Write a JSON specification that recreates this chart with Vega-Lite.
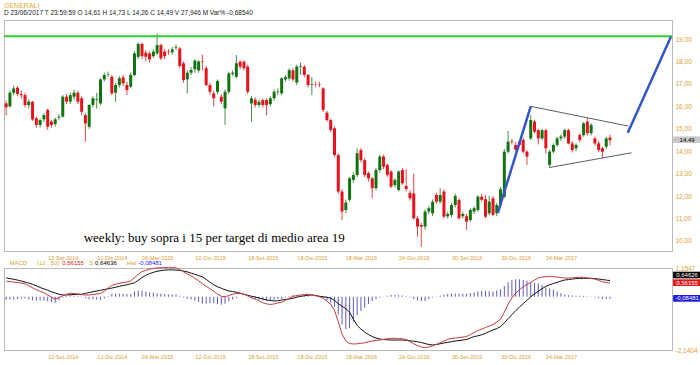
{
"$schema": "https://vega.github.io/schema/vega-lite/v6.json",
"background": "white",
"padding": {"left": 2, "top": 2, "right": 0, "bottom": 0},
"bounds": "flush",
"spacing": 17,
"title": {"text": "GENERALI", "subtitle": "D 23/06/2017  T 23:59:59  O 14,61  H 14,73  L 14,26  C 14,49  V 27,946 M  Var% -0,68540", "anchor": "start", "color": "#e0a830", "fontSize": 7, "fontWeight": "normal", "subtitleColor": "#222222", "subtitleFontSize": 6.5, "subtitlePadding": 1, "offset": 3, "frame": "group"},
"resolve": {"scale": {"color": "independent"}},
"config": {
  "font": "Liberation Sans",
  "view": {"stroke": "#b8b8b8"},
  "locale": {
    "number": {"decimal": ",", "thousands": ".", "grouping": [3], "currency": ["€", ""], "minus": "-"},
    "time": {"dateTime": "%A %e %B %Y, %X", "date": "%d/%m/%Y", "time": "%H:%M:%S", "periods": ["AM", "PM"],
      "days": ["Domenica", "Lunedì", "Martedì", "Mercoledì", "Giovedì", "Venerdì", "Sabato"],
      "shortDays": ["Dom", "Lun", "Mar", "Mer", "Gio", "Ven", "Sab"],
      "months": ["Gennaio", "Febbraio", "Marzo", "Aprile", "Maggio", "Giugno", "Luglio", "Agosto", "Settembre", "Ottobre", "Novembre", "Dicembre"],
      "shortMonths": ["Gen", "Feb", "Mar", "Apr", "Mag", "Giu", "Lug", "Ago", "Set", "Ott", "Nov", "Dic"]}
  }
},
"datasets": {
"w": [
{"d":"2014-05-30","o":16.13,"h":16.25,"l":15.6,"c":15.96,"m":0.63,"s":0.76,"hs":-0.13},
{"d":"2014-06-06","o":16.0,"h":16.7,"l":15.95,"c":16.61,"m":0.61,"s":0.73,"hs":-0.12},
{"d":"2014-06-13","o":16.6,"h":16.92,"l":16.5,"c":16.8,"m":0.59,"s":0.70,"hs":-0.11},
{"d":"2014-06-20","o":16.83,"h":16.9,"l":16.45,"c":16.55,"m":0.57,"s":0.67,"hs":-0.10},
{"d":"2014-06-27","o":16.55,"h":16.7,"l":16.35,"c":16.5,"m":0.55,"s":0.63,"hs":-0.08},
{"d":"2014-07-04","o":16.5,"h":16.6,"l":15.95,"c":16.06,"m":0.52,"s":0.59,"hs":-0.07},
{"d":"2014-07-11","o":16.06,"h":16.3,"l":15.9,"c":16.21,"m":0.44,"s":0.55,"hs":-0.11},
{"d":"2014-07-18","o":16.2,"h":16.25,"l":15.35,"c":15.42,"m":0.36,"s":0.50,"hs":-0.14},
{"d":"2014-07-25","o":15.47,"h":15.55,"l":15.05,"c":15.17,"m":0.28,"s":0.44,"hs":-0.16},
{"d":"2014-08-01","o":15.17,"h":15.45,"l":15.05,"c":15.39,"m":0.22,"s":0.37,"hs":-0.15},
{"d":"2014-08-08","o":15.42,"h":15.7,"l":15.3,"c":15.61,"m":0.16,"s":0.32,"hs":-0.16},
{"d":"2014-08-15","o":15.84,"h":15.9,"l":14.95,"c":15.09,"m":0.07,"s":0.26,"hs":-0.19},
{"d":"2014-08-22","o":15.32,"h":15.4,"l":15.05,"c":15.17,"m":-0.02,"s":0.20,"hs":-0.22},
{"d":"2014-08-29","o":15.21,"h":15.5,"l":15.1,"c":15.42,"m":-0.09,"s":0.15,"hs":-0.24},
{"d":"2014-09-05","o":15.5,"h":15.65,"l":15.4,"c":15.54,"m":-0.04,"s":0.10,"hs":-0.14},
{"d":"2014-09-12","o":15.54,"h":16.5,"l":15.5,"c":16.43,"m":0.04,"s":0.07,"hs":-0.03},
{"d":"2014-09-19","o":16.43,"h":16.55,"l":16.1,"c":16.21,"m":0.10,"s":0.07,"hs":0.03},
{"d":"2014-09-26","o":16.21,"h":16.6,"l":16.1,"c":16.5,"m":0.14,"s":0.08,"hs":0.06},
{"d":"2014-10-03","o":16.43,"h":16.75,"l":16.3,"c":16.61,"m":0.13,"s":0.09,"hs":0.04},
{"d":"2014-10-10","o":16.61,"h":16.7,"l":16.1,"c":16.21,"m":0.11,"s":0.09,"hs":0.02},
{"d":"2014-10-17","o":16.36,"h":16.45,"l":15.6,"c":15.76,"m":0.09,"s":0.10,"hs":-0.01},
{"d":"2014-10-24","o":15.61,"h":15.7,"l":14.42,"c":15.24,"m":0.07,"s":0.13,"hs":-0.06},
{"d":"2014-10-31","o":15.09,"h":16.1,"l":15.0,"c":16.06,"m":0.07,"s":0.17,"hs":-0.10},
{"d":"2014-11-07","o":16.06,"h":16.45,"l":15.95,"c":16.36,"m":0.09,"s":0.20,"hs":-0.11},
{"d":"2014-11-14","o":16.28,"h":16.6,"l":15.9,"c":16.31,"m":0.11,"s":0.23,"hs":-0.12},
{"d":"2014-11-21","o":16.13,"h":17.25,"l":16.05,"c":17.2,"m":0.13,"s":0.26,"hs":-0.13},
{"d":"2014-11-28","o":17.2,"h":17.5,"l":17.1,"c":17.4,"m":0.22,"s":0.29,"hs":-0.07},
{"d":"2014-12-05","o":17.42,"h":17.55,"l":17.3,"c":17.44,"m":0.34,"s":0.32,"hs":0.02},
{"d":"2014-12-12","o":17.32,"h":17.4,"l":16.5,"c":16.58,"m":0.46,"s":0.35,"hs":0.11},
{"d":"2014-12-19","o":16.61,"h":17.05,"l":16.2,"c":16.95,"m":0.50,"s":0.38,"hs":0.12},
{"d":"2014-12-26","o":16.95,"h":17.35,"l":16.85,"c":17.25,"m":0.54,"s":0.42,"hs":0.12},
{"d":"2015-01-02","o":17.29,"h":17.4,"l":16.9,"c":17.02,"m":0.57,"s":0.45,"hs":0.12},
{"d":"2015-01-09","o":16.95,"h":17.1,"l":16.5,"c":16.73,"m":0.59,"s":0.48,"hs":0.11},
{"d":"2015-01-16","o":16.88,"h":17.5,"l":16.8,"c":17.4,"m":0.63,"s":0.52,"hs":0.11},
{"d":"2015-01-23","o":17.4,"h":18.45,"l":17.35,"c":18.36,"m":0.77,"s":0.56,"hs":0.21},
{"d":"2015-01-30","o":18.21,"h":18.85,"l":18.1,"c":18.78,"m":0.90,"s":0.66,"hs":0.24},
{"d":"2015-02-06","o":18.78,"h":18.85,"l":18.1,"c":18.24,"m":1.01,"s":0.77,"hs":0.24},
{"d":"2015-02-13","o":18.39,"h":18.5,"l":18.0,"c":18.21,"m":1.06,"s":0.86,"hs":0.20},
{"d":"2015-02-20","o":18.36,"h":18.45,"l":17.95,"c":18.09,"m":1.10,"s":0.93,"hs":0.17},
{"d":"2015-02-27","o":18.24,"h":18.55,"l":18.15,"c":18.44,"m":1.14,"s":0.98,"hs":0.16},
{"d":"2015-03-06","o":18.36,"h":19.25,"l":18.3,"c":18.73,"m":1.16,"s":1.02,"hs":0.14},
{"d":"2015-03-13","o":18.73,"h":18.8,"l":18.05,"c":18.14,"m":1.17,"s":1.05,"hs":0.12},
{"d":"2015-03-20","o":18.44,"h":18.55,"l":18.1,"c":18.24,"m":1.17,"s":1.07,"hs":0.10},
{"d":"2015-03-27","o":18.44,"h":18.55,"l":18.3,"c":18.42,"m":1.17,"s":1.08,"hs":0.09},
{"d":"2015-04-03","o":18.41,"h":18.65,"l":18.3,"c":18.54,"m":1.17,"s":1.08,"hs":0.09},
{"d":"2015-04-10","o":18.6,"h":18.75,"l":18.5,"c":18.63,"m":1.16,"s":1.07,"hs":0.09},
{"d":"2015-04-17","o":18.58,"h":18.65,"l":17.7,"c":17.8,"m":1.10,"s":1.06,"hs":0.04},
{"d":"2015-04-24","o":17.92,"h":18.0,"l":17.05,"c":17.17,"m":1.00,"s":1.03,"hs":-0.03},
{"d":"2015-05-01","o":17.2,"h":17.6,"l":16.58,"c":17.5,"m":0.92,"s":1.00,"hs":-0.08},
{"d":"2015-05-08","o":17.5,"h":17.75,"l":17.4,"c":17.62,"m":0.84,"s":0.95,"hs":-0.11},
{"d":"2015-05-15","o":17.65,"h":18.1,"l":17.5,"c":18.04,"m":0.74,"s":0.90,"hs":-0.16},
{"d":"2015-05-22","o":17.6,"h":18.05,"l":17.5,"c":18.0,"m":0.64,"s":0.85,"hs":-0.21},
{"d":"2015-05-29","o":18.0,"h":18.3,"l":17.6,"c":17.98,"m":0.52,"s":0.80,"hs":-0.28},
{"d":"2015-06-05","o":17.7,"h":17.8,"l":16.9,"c":16.95,"m":0.42,"s":0.70,"hs":-0.28},
{"d":"2015-06-12","o":16.95,"h":17.05,"l":16.5,"c":16.65,"m":0.32,"s":0.58,"hs":-0.26},
{"d":"2015-06-19","o":16.58,"h":16.7,"l":16.0,"c":16.36,"m":0.22,"s":0.48,"hs":-0.26},
{"d":"2015-06-26","o":16.65,"h":17.2,"l":16.55,"c":17.13,"m":0.10,"s":0.40,"hs":-0.30},
{"d":"2015-07-03","o":16.43,"h":16.55,"l":16.1,"c":16.21,"m":0.02,"s":0.34,"hs":-0.32},
{"d":"2015-07-10","o":15.91,"h":16.75,"l":15.17,"c":16.65,"m":0.00,"s":0.28,"hs":-0.28},
{"d":"2015-07-17","o":16.65,"h":17.55,"l":16.55,"c":17.47,"m":0.05,"s":0.23,"hs":-0.18},
{"d":"2015-07-24","o":17.45,"h":17.6,"l":17.35,"c":17.5,"m":0.10,"s":0.21,"hs":-0.11},
{"d":"2015-07-31","o":17.32,"h":18.29,"l":17.25,"c":17.92,"m":0.13,"s":0.18,"hs":-0.05},
{"d":"2015-08-07","o":17.99,"h":18.05,"l":17.65,"c":17.77,"m":0.14,"s":0.14,"hs":0.0},
{"d":"2015-08-14","o":17.99,"h":18.05,"l":17.6,"c":17.7,"m":0.10,"s":0.10,"hs":0.0},
{"d":"2015-08-21","o":17.77,"h":17.85,"l":16.55,"c":16.65,"m":0.04,"s":0.06,"hs":-0.02},
{"d":"2015-08-28","o":16.13,"h":16.45,"l":15.32,"c":16.36,"m":-0.04,"s":0.02,"hs":-0.06},
{"d":"2015-09-04","o":16.3,"h":16.4,"l":15.95,"c":16.06,"m":-0.10,"s":-0.01,"hs":-0.09},
{"d":"2015-09-11","o":16.06,"h":16.3,"l":15.95,"c":16.21,"m":-0.17,"s":-0.05,"hs":-0.12},
{"d":"2015-09-18","o":16.28,"h":16.35,"l":15.95,"c":16.06,"m":-0.24,"s":-0.09,"hs":-0.15},
{"d":"2015-09-25","o":16.28,"h":16.35,"l":15.6,"c":16.06,"m":-0.29,"s":-0.13,"hs":-0.16},
{"d":"2015-10-02","o":16.1,"h":16.45,"l":16.0,"c":16.36,"m":-0.31,"s":-0.15,"hs":-0.16},
{"d":"2015-10-09","o":16.36,"h":16.75,"l":16.25,"c":16.65,"m":-0.29,"s":-0.17,"hs":-0.12},
{"d":"2015-10-16","o":16.63,"h":16.8,"l":16.5,"c":16.66,"m":-0.25,"s":-0.16,"hs":-0.09},
{"d":"2015-10-23","o":16.58,"h":17.3,"l":16.5,"c":17.25,"m":-0.22,"s":-0.13,"hs":-0.09},
{"d":"2015-10-30","o":17.2,"h":17.4,"l":17.1,"c":17.3,"m":-0.15,"s":-0.11,"hs":-0.04},
{"d":"2015-11-06","o":17.25,"h":17.7,"l":17.15,"c":17.61,"m":-0.06,"s":-0.09,"hs":0.03},
{"d":"2015-11-13","o":17.61,"h":17.7,"l":17.1,"c":17.2,"m":0.01,"s":-0.06,"hs":0.07},
{"d":"2015-11-20","o":17.06,"h":17.85,"l":16.95,"c":17.77,"m":0.05,"s":-0.02,"hs":0.07},
{"d":"2015-11-27","o":17.75,"h":17.95,"l":17.4,"c":17.78,"m":0.07,"s":0.01,"hs":0.06},
{"d":"2015-12-04","o":17.77,"h":17.85,"l":17.3,"c":17.4,"m":0.09,"s":0.04,"hs":0.05},
{"d":"2015-12-11","o":17.4,"h":17.45,"l":16.85,"c":16.95,"m":0.10,"s":0.06,"hs":0.04},
{"d":"2015-12-18","o":16.95,"h":17.3,"l":16.5,"c":16.98,"m":0.08,"s":0.07,"hs":0.01},
{"d":"2015-12-25","o":16.98,"h":17.1,"l":16.85,"c":16.97,"m":0.04,"s":0.05,"hs":-0.01},
{"d":"2016-01-01","o":16.97,"h":17.1,"l":16.85,"c":16.95,"m":0.0,"s":0.02,"hs":-0.02},
{"d":"2016-01-08","o":16.8,"h":16.85,"l":15.75,"c":15.84,"m":-0.06,"s":0.0,"hs":-0.06},
{"d":"2016-01-15","o":15.72,"h":15.8,"l":15.3,"c":15.39,"m":-0.18,"s":-0.02,"hs":-0.16},
{"d":"2016-01-22","o":15.39,"h":15.45,"l":14.85,"c":14.94,"m":-0.30,"s":-0.06,"hs":-0.24},
{"d":"2016-01-29","o":15.02,"h":15.1,"l":13.75,"c":13.83,"m":-0.55,"s":-0.15,"hs":-0.40},
{"d":"2016-02-05","o":13.83,"h":13.9,"l":12.1,"c":12.2,"m":-1.00,"s":-0.28,"hs":-0.72},
{"d":"2016-02-12","o":12.2,"h":12.3,"l":10.93,"c":11.31,"m":-1.50,"s":-0.38,"hs":-1.12},
{"d":"2016-02-19","o":11.38,"h":11.85,"l":11.25,"c":11.71,"m":-1.78,"s":-0.48,"hs":-1.30},
{"d":"2016-02-26","o":11.83,"h":12.85,"l":11.75,"c":12.79,"m":-1.88,"s":-0.62,"hs":-1.26},
{"d":"2016-03-04","o":12.72,"h":13.05,"l":12.6,"c":12.94,"m":-1.90,"s":-0.90,"hs":-1.00},
{"d":"2016-03-11","o":12.94,"h":14.13,"l":12.85,"c":13.91,"m":-1.89,"s":-1.15,"hs":-0.74},
{"d":"2016-03-18","o":14.05,"h":14.15,"l":13.5,"c":13.6,"m":-1.87,"s":-1.30,"hs":-0.57},
{"d":"2016-03-25","o":13.6,"h":13.7,"l":12.85,"c":12.94,"m":-1.85,"s":-1.42,"hs":-0.43},
{"d":"2016-04-01","o":13.02,"h":13.1,"l":12.65,"c":12.79,"m":-1.81,"s":-1.52,"hs":-0.29},
{"d":"2016-04-08","o":12.79,"h":12.85,"l":11.9,"c":12.35,"m":-1.78,"s":-1.60,"hs":-0.18},
{"d":"2016-04-15","o":12.35,"h":13.25,"l":12.25,"c":13.16,"m":-1.76,"s":-1.66,"hs":-0.10},
{"d":"2016-04-22","o":13.16,"h":13.85,"l":13.05,"c":13.76,"m":-1.74,"s":-1.70,"hs":-0.04},
{"d":"2016-04-29","o":13.76,"h":13.85,"l":13.2,"c":13.31,"m":-1.71,"s":-1.72,"hs":0.01},
{"d":"2016-05-06","o":13.39,"h":13.45,"l":12.85,"c":12.94,"m":-1.69,"s":-1.73,"hs":0.04},
{"d":"2016-05-13","o":13.09,"h":13.15,"l":12.35,"c":12.42,"m":-1.67,"s":-1.74,"hs":0.07},
{"d":"2016-05-20","o":12.49,"h":12.8,"l":12.4,"c":12.72,"m":-1.67,"s":-1.74,"hs":0.07},
{"d":"2016-05-27","o":12.27,"h":13.15,"l":12.2,"c":13.09,"m":-1.68,"s":-1.74,"hs":0.06},
{"d":"2016-06-03","o":13.16,"h":13.25,"l":12.5,"c":12.57,"m":-1.69,"s":-1.74,"hs":0.05},
{"d":"2016-06-10","o":12.45,"h":13.2,"l":12.2,"c":12.31,"m":-1.72,"s":-1.75,"hs":0.03},
{"d":"2016-06-17","o":12.14,"h":12.25,"l":11.8,"c":11.9,"m":-1.80,"s":-1.77,"hs":-0.03},
{"d":"2016-06-24","o":12.12,"h":13.0,"l":10.95,"c":11.01,"m":-1.89,"s":-1.79,"hs":-0.10},
{"d":"2016-07-01","o":11.01,"h":11.1,"l":10.19,"c":10.64,"m":-1.96,"s":-1.81,"hs":-0.15},
{"d":"2016-07-08","o":10.71,"h":10.8,"l":9.74,"c":10.64,"m":-2.02,"s":-1.84,"hs":-0.18},
{"d":"2016-07-15","o":10.64,"h":11.4,"l":10.5,"c":11.31,"m":-2.05,"s":-1.88,"hs":-0.17},
{"d":"2016-07-22","o":11.31,"h":11.55,"l":11.2,"c":11.46,"m":-2.02,"s":-1.92,"hs":-0.10},
{"d":"2016-07-29","o":11.23,"h":11.85,"l":11.1,"c":11.75,"m":-1.97,"s":-1.94,"hs":-0.03},
{"d":"2016-08-05","o":12.05,"h":12.15,"l":11.65,"c":11.75,"m":-1.91,"s":-1.92,"hs":0.01},
{"d":"2016-08-12","o":11.75,"h":12.35,"l":11.65,"c":12.05,"m":-1.85,"s":-1.89,"hs":0.04},
{"d":"2016-08-19","o":12.2,"h":12.3,"l":11.0,"c":11.08,"m":-1.78,"s":-1.86,"hs":0.08},
{"d":"2016-08-26","o":11.1,"h":11.3,"l":11.0,"c":11.2,"m":-1.71,"s":-1.83,"hs":0.12},
{"d":"2016-09-02","o":11.16,"h":11.7,"l":11.05,"c":11.6,"m":-1.68,"s":-1.81,"hs":0.13},
{"d":"2016-09-09","o":11.6,"h":12.1,"l":11.5,"c":12.0,"m":-1.66,"s":-1.78,"hs":0.12},
{"d":"2016-09-16","o":11.83,"h":11.9,"l":10.95,"c":11.01,"m":-1.64,"s":-1.76,"hs":0.12},
{"d":"2016-09-23","o":11.1,"h":11.3,"l":11.0,"c":11.2,"m":-1.62,"s":-1.74,"hs":0.12},
{"d":"2016-09-30","o":11.1,"h":11.2,"l":10.49,"c":10.86,"m":-1.60,"s":-1.72,"hs":0.12},
{"d":"2016-10-07","o":10.93,"h":11.45,"l":10.85,"c":11.38,"m":-1.52,"s":-1.66,"hs":0.14},
{"d":"2016-10-14","o":11.31,"h":11.55,"l":11.2,"c":11.46,"m":-1.44,"s":-1.60,"hs":0.16},
{"d":"2016-10-21","o":11.38,"h":12.05,"l":11.3,"c":11.97,"m":-1.36,"s":-1.57,"hs":0.21},
{"d":"2016-10-28","o":11.97,"h":12.1,"l":11.75,"c":11.83,"m":-1.30,"s":-1.53,"hs":0.23},
{"d":"2016-11-04","o":11.86,"h":12.05,"l":11.0,"c":11.08,"m":-1.24,"s":-1.47,"hs":0.23},
{"d":"2016-11-11","o":11.23,"h":12.0,"l":11.15,"c":11.75,"m":-1.18,"s":-1.40,"hs":0.22},
{"d":"2016-11-18","o":11.9,"h":12.0,"l":11.1,"c":11.16,"m":-1.12,"s":-1.33,"hs":0.21},
{"d":"2016-11-25","o":11.23,"h":11.7,"l":11.1,"c":11.6,"m":-1.02,"s":-1.28,"hs":0.26},
{"d":"2016-12-02","o":11.6,"h":12.4,"l":11.5,"c":12.3,"m":-0.90,"s":-1.20,"hs":0.30},
{"d":"2016-12-09","o":11.97,"h":14.1,"l":11.9,"c":13.98,"m":-0.62,"s":-1.05,"hs":0.43},
{"d":"2016-12-16","o":13.98,"h":14.9,"l":13.9,"c":14.42,"m":-0.30,"s":-0.88,"hs":0.58},
{"d":"2016-12-23","o":14.45,"h":14.55,"l":14.3,"c":14.42,"m":-0.05,"s":-0.72,"hs":0.67},
{"d":"2016-12-30","o":14.28,"h":14.4,"l":14.0,"c":14.08,"m":0.14,"s":-0.56,"hs":0.70},
{"d":"2017-01-06","o":14.42,"h":14.5,"l":14.2,"c":14.28,"m":0.28,"s":-0.42,"hs":0.70},
{"d":"2017-01-13","o":14.5,"h":14.6,"l":13.9,"c":13.98,"m":0.40,"s":-0.28,"hs":0.68},
{"d":"2017-01-20","o":13.98,"h":14.05,"l":13.39,"c":13.76,"m":0.50,"s":-0.14,"hs":0.64},
{"d":"2017-01-27","o":14.57,"h":15.6,"l":14.5,"c":15.39,"m":0.58,"s":0.0,"hs":0.58},
{"d":"2017-02-03","o":15.32,"h":15.4,"l":14.8,"c":14.87,"m":0.67,"s":0.12,"hs":0.55},
{"d":"2017-02-10","o":14.94,"h":15.0,"l":14.3,"c":14.57,"m":0.76,"s":0.22,"hs":0.54},
{"d":"2017-02-17","o":14.57,"h":15.0,"l":14.5,"c":14.94,"m":0.79,"s":0.32,"hs":0.47},
{"d":"2017-02-24","o":14.94,"h":15.0,"l":13.9,"c":14.13,"m":0.80,"s":0.42,"hs":0.38},
{"d":"2017-03-03","o":13.39,"h":14.05,"l":13.3,"c":13.98,"m":0.81,"s":0.48,"hs":0.33},
{"d":"2017-03-10","o":13.98,"h":14.35,"l":13.9,"c":14.28,"m":0.81,"s":0.53,"hs":0.28},
{"d":"2017-03-17","o":14.28,"h":14.65,"l":14.2,"c":14.57,"m":0.79,"s":0.58,"hs":0.21},
{"d":"2017-03-24","o":14.57,"h":14.75,"l":14.45,"c":14.65,"m":0.77,"s":0.63,"hs":0.14},
{"d":"2017-03-31","o":14.65,"h":15.0,"l":14.55,"c":14.94,"m":0.75,"s":0.67,"hs":0.08},
{"d":"2017-04-07","o":14.94,"h":15.0,"l":14.3,"c":14.35,"m":0.75,"s":0.69,"hs":0.06},
{"d":"2017-04-14","o":14.35,"h":14.45,"l":13.95,"c":14.05,"m":0.76,"s":0.71,"hs":0.05},
{"d":"2017-04-21","o":14.13,"h":14.35,"l":14.0,"c":14.28,"m":0.77,"s":0.73,"hs":0.04},
{"d":"2017-04-28","o":14.72,"h":14.8,"l":14.4,"c":14.5,"m":0.78,"s":0.74,"hs":0.04},
{"d":"2017-05-05","o":14.72,"h":15.3,"l":14.65,"c":15.24,"m":0.78,"s":0.74,"hs":0.04},
{"d":"2017-05-12","o":15.32,"h":15.47,"l":14.7,"c":14.8,"m":0.76,"s":0.74,"hs":0.02},
{"d":"2017-05-19","o":14.8,"h":15.25,"l":14.7,"c":15.17,"m":0.73,"s":0.74,"hs":-0.01},
{"d":"2017-05-26","o":14.57,"h":14.65,"l":14.25,"c":14.35,"m":0.71,"s":0.73,"hs":-0.02},
{"d":"2017-06-02","o":14.35,"h":14.45,"l":13.95,"c":14.05,"m":0.66,"s":0.71,"hs":-0.05},
{"d":"2017-06-09","o":14.13,"h":14.2,"l":13.7,"c":13.98,"m":0.60,"s":0.69,"hs":-0.09},
{"d":"2017-06-16","o":14.2,"h":14.65,"l":14.1,"c":14.57,"m":0.57,"s":0.67,"hs":-0.10},
{"d":"2017-06-23","o":14.61,"h":14.73,"l":14.26,"c":14.49,"m":0.56,"s":0.65,"hs":-0.085}
],
"ln": [
{"k":"g","d":"2014-05-26","v":19.12,"d2":"2017-10-16","v2":19.12},
{"k":"t","d":"2017-01-27","v":16.0,"d2":"2017-07-27","v2":15.12},
{"k":"t","d":"2017-03-02","v":13.27,"d2":"2017-08-02","v2":13.93},
{"k":"b","d":"2016-11-27","v":11.25,"d2":"2017-01-27","v2":16.0},
{"k":"b","d":"2017-07-26","v":14.82,"d2":"2017-10-14","v2":19.1}
],
"ann": [{"d":"2015-06-20","v":10.15,"t":"weekly: buy sopra i 15 per target di medio area 19"}],
"pb": [{"d":"2017-10-18","d2":"2017-12-09","v":14.66,"v2":14.37}],
"pt": [{"d":"2017-11-13","v":14.515,"t":"14,49"}],
"mb": [
{"g":"sig","d":"2017-10-18","d2":"2017-12-09","v":1.006,"v2":0.74},
{"g":"macd","d":"2017-10-18","d2":"2017-12-09","v":0.70,"v2":0.43},
{"g":"hist","d":"2017-10-18","d2":"2017-12-09","v":0.07,"v2":-0.20}
],
"mt": [
{"d":"2017-11-13","v":0.873,"t":"0,64626"},
{"d":"2017-11-13","v":0.565,"t":"0,56155"},
{"d":"2017-11-13","v":-0.065,"t":"-0,08481"}
],
"ml": [
{"d":"2014-06-05","v":1.356,"t":"MACD","g":"lbl"},
{"d":"2014-07-26","v":1.356,"t":"(12 , 50)","g":"lbl"},
{"d":"2014-09-11","v":1.356,"t":"0,56155","g":"macd"},
{"d":"2014-10-31","v":1.356,"t":"S","g":"lbl"},
{"d":"2014-11-11","v":1.356,"t":"0,64636","g":"sig"},
{"d":"2015-01-08","v":1.356,"t":"Hist","g":"lbl"},
{"d":"2015-01-30","v":1.356,"t":"-0,08481","g":"hist"}
]
},
"vconcat": [
{
"width": 668, "height": 231,
"encoding": {"x": {"field": "d", "type": "temporal",
  "scale": {"type": "utc", "domain": [{"year": 2014, "month": 5, "date": 26, "utc": true}, {"year": 2017, "month": 10, "date": 16, "utc": true}], "nice": false, "padding": 0},
  "axis": {"values": [{"year":2014,"month":9,"date":12,"utc":true},{"year":2014,"month":12,"date":12,"utc":true},{"year":2015,"month":3,"date":6,"utc":true},{"year":2015,"month":6,"date":12,"utc":true},{"year":2015,"month":9,"date":18,"utc":true},{"year":2015,"month":12,"date":18,"utc":true},{"year":2016,"month":3,"date":18,"utc":true},{"year":2016,"month":6,"date":24,"utc":true},{"year":2016,"month":9,"date":30,"utc":true},{"year":2016,"month":12,"date":30,"utc":true},{"year":2017,"month":3,"date":24,"utc":true}],
    "format": "%d-%b-%Y", "labelColor": "#d9a030", "labelFontSize": 5.5, "ticks": false, "domain": false, "grid": false, "title": null, "labelPadding": 4, "labelOverlap": false}}},
"layer": [
{"data": {"name": "w"}, "mark": {"type": "rule", "strokeWidth": 1},
 "encoding": {"y": {"field": "l", "type": "quantitative", "scale": {"domain": [9.55, 19.85], "nice": false, "zero": false}, "axis": {"orient": "right", "values": [10,11,12,13,14,15,16,17,18,19], "format": ".2f", "labelColor": "#d9a030", "labelFontSize": 6.5, "ticks": false, "domain": false, "grid": false, "title": null, "labelPadding": 3, "labelOverlap": false}},
  "y2": {"field": "h"},
  "color": {"condition": {"test": "datum.c >= datum.o", "value": "#4a8a4a"}, "value": "#e04848"}}},
{"data": {"name": "w"}, "mark": {"type": "bar", "size": 3},
 "encoding": {"y": {"field": "o", "type": "quantitative", "scale": {"domain": [9.55, 19.85], "nice": false, "zero": false}, "axis": {"orient": "right", "values": [10,11,12,13,14,15,16,17,18,19], "format": ".2f", "labelColor": "#d9a030", "labelFontSize": 6.5, "ticks": false, "domain": false, "grid": false, "title": null, "labelPadding": 3, "labelOverlap": false}},
  "y2": {"field": "c"},
  "color": {"condition": {"test": "datum.c >= datum.o", "value": "#137313"}, "value": "#e6121b"}}},
{"data": {"name": "ln", "format": {"parse": {"d2": "date"}}}, "transform": [{"filter": "datum.k === 'g'"}], "mark": {"type": "rule", "color": "#33cc33", "strokeWidth": 2},
 "encoding": {"x2": {"field": "d2"},
  "y": {"field": "v", "type": "quantitative", "scale": {"domain": [9.55, 19.85], "nice": false, "zero": false}, "axis": {"orient": "right", "values": [10,11,12,13,14,15,16,17,18,19], "format": ".2f", "labelColor": "#d9a030", "labelFontSize": 6.5, "ticks": false, "domain": false, "grid": false, "title": null, "labelPadding": 3, "labelOverlap": false}},
  "y2": {"field": "v2"}}},
{"data": {"name": "ln", "format": {"parse": {"d2": "date"}}}, "transform": [{"filter": "datum.k === 't'"}], "mark": {"type": "rule", "color": "#333333", "strokeWidth": 0.8},
 "encoding": {"x2": {"field": "d2"},
  "y": {"field": "v", "type": "quantitative", "scale": {"domain": [9.55, 19.85], "nice": false, "zero": false}, "axis": {"orient": "right", "values": [10,11,12,13,14,15,16,17,18,19], "format": ".2f", "labelColor": "#d9a030", "labelFontSize": 6.5, "ticks": false, "domain": false, "grid": false, "title": null, "labelPadding": 3, "labelOverlap": false}},
  "y2": {"field": "v2"}}},
{"data": {"name": "ln", "format": {"parse": {"d2": "date"}}}, "transform": [{"filter": "datum.k === 'b'"}], "mark": {"type": "rule", "color": "#3355cc", "strokeWidth": 2.5},
 "encoding": {"x2": {"field": "d2"},
  "y": {"field": "v", "type": "quantitative", "scale": {"domain": [9.55, 19.85], "nice": false, "zero": false}, "axis": {"orient": "right", "values": [10,11,12,13,14,15,16,17,18,19], "format": ".2f", "labelColor": "#d9a030", "labelFontSize": 6.5, "ticks": false, "domain": false, "grid": false, "title": null, "labelPadding": 3, "labelOverlap": false}},
  "y2": {"field": "v2"}}},
{"data": {"name": "ann"}, "mark": {"type": "text", "font": "Liberation Serif", "fontSize": 13, "color": "#000000"},
 "encoding": {"y": {"field": "v", "type": "quantitative", "scale": {"domain": [9.55, 19.85], "nice": false, "zero": false}, "axis": {"orient": "right", "values": [10,11,12,13,14,15,16,17,18,19], "format": ".2f", "labelColor": "#d9a030", "labelFontSize": 6.5, "ticks": false, "domain": false, "grid": false, "title": null, "labelPadding": 3, "labelOverlap": false}},
  "text": {"field": "t"}}},
{"data": {"name": "pb", "format": {"parse": {"d2": "date"}}}, "mark": {"type": "rect", "color": "#c8c8c8"},
 "encoding": {"x2": {"field": "d2"},
  "y": {"field": "v", "type": "quantitative", "scale": {"domain": [9.55, 19.85], "nice": false, "zero": false}, "axis": {"orient": "right", "values": [10,11,12,13,14,15,16,17,18,19], "format": ".2f", "labelColor": "#d9a030", "labelFontSize": 6.5, "ticks": false, "domain": false, "grid": false, "title": null, "labelPadding": 3, "labelOverlap": false}},
  "y2": {"field": "v2"}}},
{"data": {"name": "pt"}, "mark": {"type": "text", "fontSize": 6, "color": "#000000"},
 "encoding": {"y": {"field": "v", "type": "quantitative", "scale": {"domain": [9.55, 19.85], "nice": false, "zero": false}, "axis": {"orient": "right", "values": [10,11,12,13,14,15,16,17,18,19], "format": ".2f", "labelColor": "#d9a030", "labelFontSize": 6.5, "ticks": false, "domain": false, "grid": false, "title": null, "labelPadding": 3, "labelOverlap": false}},
  "text": {"field": "t"}}}
]
},
{
"width": 668, "height": 82,
"encoding": {"x": {"field": "d", "type": "temporal",
  "scale": {"type": "utc", "domain": [{"year": 2014, "month": 5, "date": 26, "utc": true}, {"year": 2017, "month": 10, "date": 16, "utc": true}], "nice": false, "padding": 0},
  "axis": {"values": [{"year":2014,"month":9,"date":12,"utc":true},{"year":2014,"month":12,"date":12,"utc":true},{"year":2015,"month":3,"date":6,"utc":true},{"year":2015,"month":6,"date":12,"utc":true},{"year":2015,"month":9,"date":18,"utc":true},{"year":2015,"month":12,"date":18,"utc":true},{"year":2016,"month":3,"date":18,"utc":true},{"year":2016,"month":6,"date":24,"utc":true},{"year":2016,"month":9,"date":30,"utc":true},{"year":2016,"month":12,"date":30,"utc":true},{"year":2017,"month":3,"date":24,"utc":true}],
    "format": "%d-%b-%Y", "labelColor": "#d9a030", "labelFontSize": 5.5, "ticks": false, "domain": false, "grid": false, "title": null, "labelPadding": 4, "labelOverlap": false}}},
"layer": [
{"data": {"name": "w"}, "mark": {"type": "rule", "color": "#5a5ac0", "strokeWidth": 1},
 "encoding": {"y": {"field": "hs", "type": "quantitative", "scale": {"domain": [-2.1404, 1.1547], "nice": false, "zero": false}, "axis": {"orient": "right", "values": [-2.1404, 1.1547], "format": ".4f", "labelColor": "#d9a030", "labelFontSize": 6.5, "ticks": false, "domain": false, "grid": false, "title": null, "labelPadding": 3, "labelOverlap": false}},
  "y2": {"datum": 0}}},
{"data": {"name": "w"}, "mark": {"type": "line", "color": "#111111", "strokeWidth": 1},
 "encoding": {"y": {"field": "s", "type": "quantitative", "scale": {"domain": [-2.1404, 1.1547], "nice": false, "zero": false}, "axis": {"orient": "right", "values": [-2.1404, 1.1547], "format": ".4f", "labelColor": "#d9a030", "labelFontSize": 6.5, "ticks": false, "domain": false, "grid": false, "title": null, "labelPadding": 3, "labelOverlap": false}}}},
{"data": {"name": "w"}, "mark": {"type": "line", "color": "#c83a3a", "strokeWidth": 1},
 "encoding": {"y": {"field": "m", "type": "quantitative", "scale": {"domain": [-2.1404, 1.1547], "nice": false, "zero": false}, "axis": {"orient": "right", "values": [-2.1404, 1.1547], "format": ".4f", "labelColor": "#d9a030", "labelFontSize": 6.5, "ticks": false, "domain": false, "grid": false, "title": null, "labelPadding": 3, "labelOverlap": false}}}},
{"data": {"name": "mb", "format": {"parse": {"d2": "date"}}}, "mark": {"type": "rect"},
 "encoding": {"x2": {"field": "d2"},
  "y": {"field": "v", "type": "quantitative", "scale": {"domain": [-2.1404, 1.1547], "nice": false, "zero": false}, "axis": {"orient": "right", "values": [-2.1404, 1.1547], "format": ".4f", "labelColor": "#d9a030", "labelFontSize": 6.5, "ticks": false, "domain": false, "grid": false, "title": null, "labelPadding": 3, "labelOverlap": false}},
  "y2": {"field": "v2"},
  "color": {"field": "g", "type": "nominal", "scale": {"domain": ["lbl", "macd", "sig", "hist"], "range": ["#d9a030", "#e01818", "#000000", "#1c1ce0"]}, "legend": null}}},
{"data": {"name": "mt"}, "mark": {"type": "text", "fontSize": 6, "color": "#ffffff"},
 "encoding": {"y": {"field": "v", "type": "quantitative", "scale": {"domain": [-2.1404, 1.1547], "nice": false, "zero": false}, "axis": {"orient": "right", "values": [-2.1404, 1.1547], "format": ".4f", "labelColor": "#d9a030", "labelFontSize": 6.5, "ticks": false, "domain": false, "grid": false, "title": null, "labelPadding": 3, "labelOverlap": false}},
  "text": {"field": "t"}}},
{"data": {"name": "ml"}, "mark": {"type": "text", "fontSize": 6, "align": "left"},
 "encoding": {"y": {"field": "v", "type": "quantitative", "scale": {"domain": [-2.1404, 1.1547], "nice": false, "zero": false}, "axis": {"orient": "right", "values": [-2.1404, 1.1547], "format": ".4f", "labelColor": "#d9a030", "labelFontSize": 6.5, "ticks": false, "domain": false, "grid": false, "title": null, "labelPadding": 3, "labelOverlap": false}},
  "text": {"field": "t"},
  "color": {"field": "g", "type": "nominal", "scale": {"domain": ["lbl", "macd", "sig", "hist"], "range": ["#d9a030", "#e01818", "#000000", "#1c1ce0"]}, "legend": null}}}
]
}
]
}
